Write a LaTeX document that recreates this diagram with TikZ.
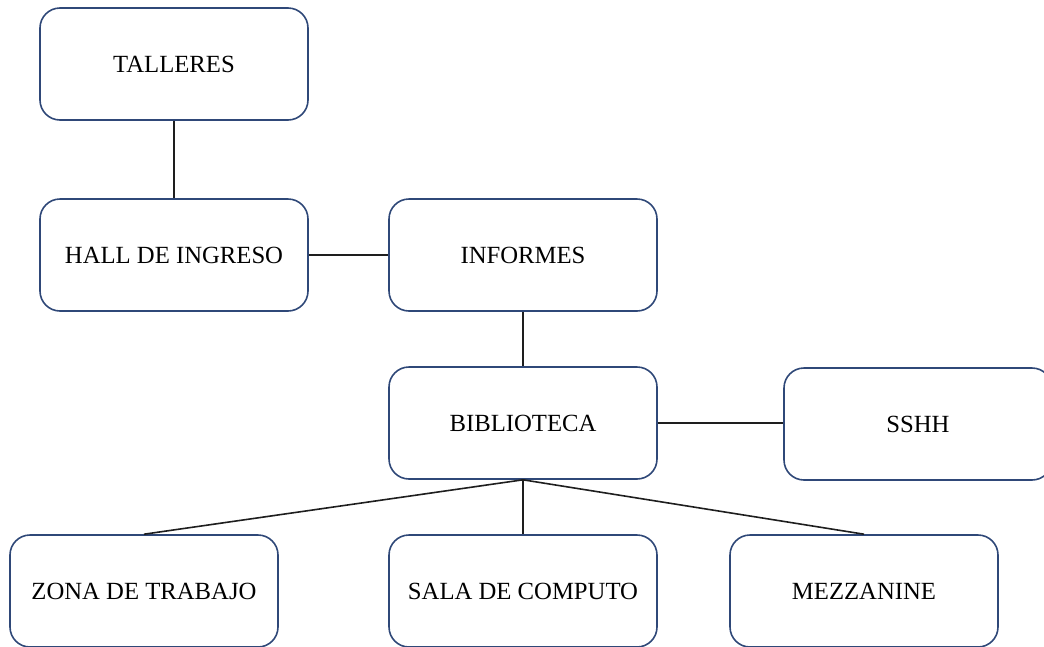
\documentclass[tikz,border=0pt]{standalone}
\usepackage{fontspec}
\setmainfont{Liberation Serif}
\definecolor{boxblue}{RGB}{47,72,120}
\definecolor{linegray}{RGB}{30,30,30}
\begin{document}
\begin{tikzpicture}[x=1pt,y=-1pt,
  area/.style={draw=boxblue, line width=1.6pt, rounded corners=20pt, fill=white,
    minimum width=268pt, minimum height=112pt, inner sep=0pt,
    font=\fontsize{24.7}{27}\selectfont},
  link/.style={draw=linegray, line width=1.6pt}]
\useasboundingbox (0,0) rectangle (1044,646);
\node[area] (talleres) at (174,64) {TALLERES};
\node[area] (hall) at (174,255) {HALL DE INGRESO};
\node[area] (informes) at (523,255) {INFORMES};
\node[area] (biblio) at (523,423) {BIBLIOTECA};
\node[area] (sshh) at (918,424) {SSHH};
\node[area] (zona) at (144,591) {ZONA DE TRABAJO};
\node[area] (sala) at (523,591) {SALA DE COMPUTO};
\node[area] (mezz) at (864,591) {MEZZANINE};
\draw[link] (talleres.south) -- (hall.north);
\draw[link] (hall.east) -- (informes.west);
\draw[link] (informes.south) -- (biblio.north);
\draw[link] (biblio.east) -- (sshh.west |- biblio.east);
\draw[link] (biblio.south) -- (zona.north);
\draw[link] (biblio.south) -- (sala.north);
\draw[link] (biblio.south) -- (mezz.north);
\end{tikzpicture}
\end{document}
